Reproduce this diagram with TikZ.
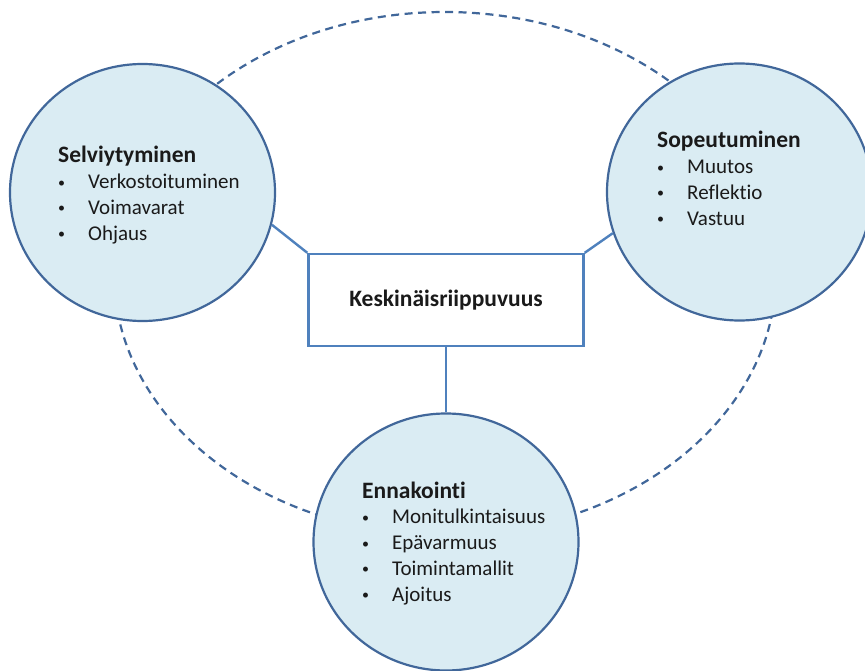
\documentclass[tikz,border=0pt]{standalone}
\usepackage{fontspec}
\setmainfont{Carlito}[RawFeature=-liga]
\usetikzlibrary{shapes.geometric}
\definecolor{bubblefill}{HTML}{DAECF3}
\definecolor{bubbleline}{HTML}{41679A}
\definecolor{linkblue}{HTML}{4F81BD}
\definecolor{ink}{HTML}{1A1A1A}
\newcommand{\bulletmark}{\makebox[30pt][l]{\raisebox{1.6pt}{\fontsize{14}{14}\selectfont\textbullet}}}
\newcommand{\headtext}[1]{{\fontsize{23.5}{25.8}\selectfont\bfseries #1}}
\begin{document}
\begin{tikzpicture}[x=1pt,y=-1pt,
  bubble/.style={ellipse, draw=bubbleline, fill=bubblefill, line width=2.2pt, inner sep=0pt, minimum width=265pt, minimum height=257pt},
  link/.style={draw=linkblue, line width=2.4pt},
  ring/.style={draw=bubbleline, line width=2.2pt, dash pattern=on 8pt off 5.5pt},
  centerbox/.style={rectangle, draw=linkblue, fill=white, line width=2.4pt, minimum width=275pt, minimum height=92pt, inner sep=0pt, text=ink, font=\fontsize{23.5}{25.8}\selectfont\bfseries},
  blocktext/.style={anchor=base west, inner sep=0pt, text=ink, font=\fontsize{21}{25.8}\selectfont}
]
\useasboundingbox (0,0) rectangle (865,671);
\draw[ring] (445,273.5) ellipse [x radius=331pt, y radius=261.5pt];

\node[bubble] (L) at (142.5,192.5) {};
\node[bubble] (R) at (739.5,192) {};
\node[bubble] (B) at (446,542) {};

\node[centerbox] (K) at (446,300) {Keskinäisriippuvuus};

\draw[link] (L.-14) -- (K.north west);
\draw[link] (R.198) -- (K.north east);
\draw[link] (K.south) -- (B.north);

\node[blocktext] (Ltext) at (58,163) {\begin{tabular}[t]{@{}l@{}l@{}}
\multicolumn{2}{@{}l@{}}{\headtext{Selviytyminen}}\\
\bulletmark & Verkostoituminen\\
\bulletmark & Voimavarat\\
\bulletmark & Ohjaus
\end{tabular}};

\node[blocktext] (Rtext) at (657,148) {\begin{tabular}[t]{@{}l@{}l@{}}
\multicolumn{2}{@{}l@{}}{\headtext{Sopeutuminen}}\\
\bulletmark & Muutos\\
\bulletmark & Reflektio\\
\bulletmark & Vastuu
\end{tabular}};

\node[blocktext] (Btext) at (362,498) {\begin{tabular}[t]{@{}l@{}l@{}}
\multicolumn{2}{@{}l@{}}{\headtext{Ennakointi}}\\
\bulletmark & Monitulkintaisuus\\
\bulletmark & Epävarmuus\\
\bulletmark & Toimintamallit\\
\bulletmark & Ajoitus
\end{tabular}};
\end{tikzpicture}
\end{document}
